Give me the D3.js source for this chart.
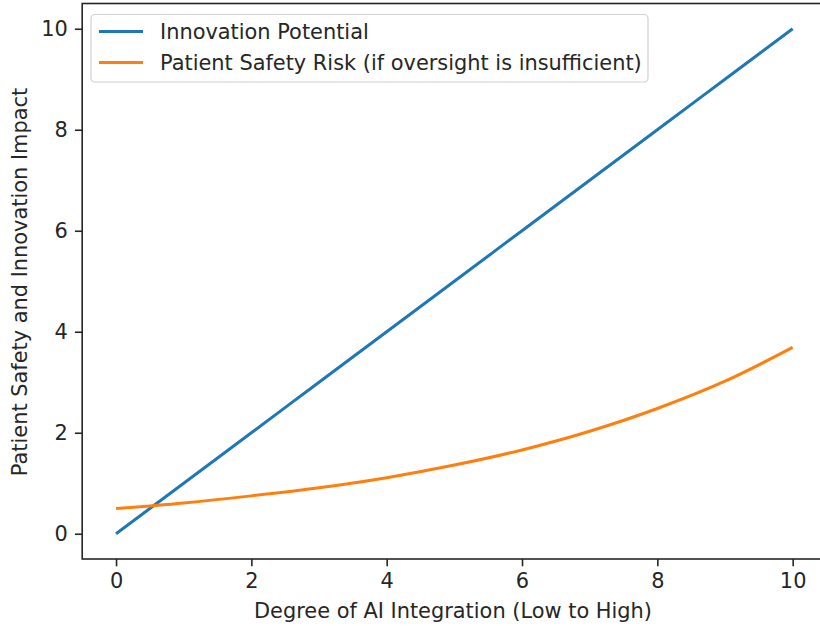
<!DOCTYPE html>
<head>
  <meta charset="utf-8">
  <script src="https://cdn.jsdelivr.net/npm/d3@7"></script>
  <style>
    body { margin: 0; background: #fff; }
    text { font-family: "DejaVu Sans", sans-serif; fill: #262626; }
  </style>
</head>
<body>
  <script>
    var width = 820, height = 626;

    // values
    var xValues = [0, 1, 2, 3, 4, 5, 6, 7, 8, 9, 10];
    var innovation = [0, 1, 2, 3, 4, 5, 6, 7, 8, 9, 10];
    var safetyRisk = [0.50, 0.61, 0.75, 0.91, 1.11, 1.36, 1.66, 2.03, 2.48, 3.02, 3.69];
    var xTicks = [0, 2, 4, 6, 8, 10];
    var yTicks = [0, 2, 4, 6, 8, 10];
    var seriesNames = ["Innovation Potential", "Patient Safety Risk (if oversight is insufficient)"];
    var colors = ["#1f77b4", "#ff7f0e"];

    var fs = "20.9px";

    var svg = d3.select("body").append("svg")
      .attr("width", width)
      .attr("height", height);

    var x = d3.scaleLinear()
              .domain([-0.5, 10.5])
              .range([82.2, 826.5]);

    var y = d3.scaleLinear()
              .domain([-0.5, 10.5])
              .range([559, 3.5]);

    var line = d3.line()
      .x(function(d, i) { return x(xValues[i]); })
      .y(function(d) { return y(d); })
      .curve(d3.curveMonotoneX);

    [innovation, safetyRisk].forEach(function(s, i) {
      svg.append("path")
        .datum(s)
        .attr("fill", "none")
        .attr("stroke", colors[i])
        .attr("stroke-width", 3)
        .attr("d", line);
    });

    // frame
    svg.append("rect")
      .attr("x", x.range()[0]).attr("y", y.range()[1])
      .attr("width", x.range()[1] - x.range()[0])
      .attr("height", y.range()[0] - y.range()[1])
      .attr("fill", "none")
      .attr("stroke", "#262626")
      .attr("stroke-width", 1.6);

    // add the x Axis
    var gx = svg.append("g")
      .attr("transform", "translate(0," + y.range()[0] + ")")
      .call(d3.axisBottom(x).tickValues(xTicks).tickSize(7.3).tickPadding(7));

    // add the y Axis
    var gy = svg.append("g")
      .attr("transform", "translate(" + x.range()[0] + ",0)")
      .call(d3.axisLeft(y).tickValues(yTicks).tickSize(7.3).tickPadding(7));

    [gx, gy].forEach(function(g) {
      g.select(".domain").remove();
      g.selectAll(".tick line").attr("stroke", "#262626").attr("stroke-width", 1.6);
      g.selectAll(".tick text").attr("fill", "#262626")
        .style("font-family", "DejaVu Sans").style("font-size", fs);
    });

    svg.append("text")
      .attr("x", 453)
      .attr("y", 618)
      .attr("text-anchor", "middle")
      .style("font-size", fs)
      .text("Degree of AI Integration (Low to High)");

    svg.append("text")
      .attr("transform", "translate(27,282) rotate(-90)")
      .attr("text-anchor", "middle")
      .style("font-size", fs)
      .text("Patient Safety and Innovation Impact");

    // legend
    var legend = svg.append("g");
    legend.append("rect")
      .attr("x", 91).attr("y", 14.5)
      .attr("width", 557).attr("height", 67.5)
      .attr("rx", 4)
      .attr("fill", "#fff").attr("fill-opacity", 0.8)
      .attr("stroke", "#d0d0d0").attr("stroke-width", 1.2);

    seriesNames.forEach(function(name, i) {
      var ly = 31.5 + i * 31;
      legend.append("line")
        .attr("x1", 99).attr("x2", 143)
        .attr("y1", ly).attr("y2", ly)
        .attr("stroke", colors[i]).attr("stroke-width", 3);
      legend.append("text")
        .attr("x", 160).attr("y", ly + 7.5)
        .style("font-size", fs)
        .text(name);
    });
  </script>
</body>
